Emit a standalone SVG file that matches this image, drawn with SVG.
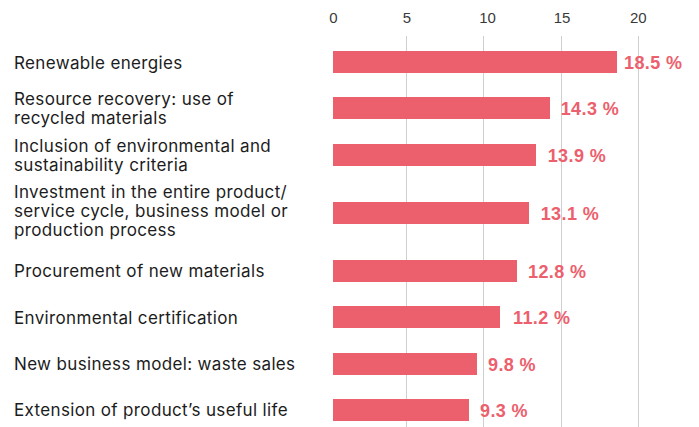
<svg xmlns="http://www.w3.org/2000/svg" width="699" height="427" viewBox="0 0 699 427">
<style>
.lbl{font-family:Inter,"Noto Sans",sans-serif;font-size:17px;letter-spacing:0.35px;fill:#1c1c1c}
.val{font-family:"Liberation Sans",Arial,sans-serif;font-size:18px;letter-spacing:0.4px;font-weight:bold;fill:#ec606d}
.ax{font-family:"Liberation Sans",Arial,sans-serif;font-size:15px;fill:#3a3a3a;text-anchor:middle}
.grid{stroke:#cfcfcf;stroke-width:1}
.bar{fill:#ec606d}
</style>
<rect width="699" height="427" fill="#fff"/>
<g id="axis">
<text class="ax" x="333.3" y="22.5">0</text>
<text class="ax" x="407" y="22.5">5</text>
<text class="ax" x="487.5" y="22.5">10</text>
<text class="ax" x="562" y="22.5">15</text>
<text class="ax" x="638.3" y="22.5">20</text>
<line class="grid" x1="406.5" y1="36" x2="406.5" y2="427"/>
<line class="grid" x1="483.5" y1="36" x2="483.5" y2="427"/>
<line class="grid" x1="561.5" y1="36" x2="561.5" y2="427"/>
<line class="grid" x1="638.5" y1="36" x2="638.5" y2="427"/>
</g>
<g id="row1">
<text class="lbl" x="14" y="69">Renewable energies</text>
<rect class="bar" x="333" y="51" width="284" height="22"/>
<text class="val" x="624" y="69">18.5 %</text>
</g>
<g id="row2">
<text class="lbl" x="14" y="105.3">Resource recovery: use of</text>
<text class="lbl" x="14" y="124.3">recycled materials</text>
<rect class="bar" x="333" y="97" width="217" height="22"/>
<text class="val" x="560.7" y="115">14.3 %</text>
</g>
<g id="row3">
<text class="lbl" x="14" y="151.5">Inclusion of environmental and</text>
<text class="lbl" x="14" y="170.5">sustainability criteria</text>
<rect class="bar" x="333" y="144" width="203" height="22"/>
<text class="val" x="547.7" y="161.7">13.9 %</text>
</g>
<g id="row4">
<text class="lbl" x="14" y="197.5">Investment in the entire product/</text>
<text class="lbl" x="14" y="216.5">service cycle, business model or</text>
<text class="lbl" x="14" y="235.5">production process</text>
<rect class="bar" x="333" y="202" width="196" height="22"/>
<text class="val" x="540.7" y="220">13.1 %</text>
</g>
<g id="row5">
<text class="lbl" x="14" y="277.3">Procurement of new materials</text>
<rect class="bar" x="333" y="260" width="184" height="22"/>
<text class="val" x="528" y="278">12.8 %</text>
</g>
<g id="row6">
<text class="lbl" x="14" y="324">Environmental certification</text>
<rect class="bar" x="333" y="306" width="167" height="22"/>
<text class="val" x="513" y="324">11.2 %</text>
</g>
<g id="row7">
<text class="lbl" x="14" y="370">New business model: waste sales</text>
<rect class="bar" x="333" y="353" width="144" height="22"/>
<text class="val" x="488" y="371">9.8 %</text>
</g>
<g id="row8">
<text class="lbl" x="14" y="416">Extension of product’s useful life</text>
<rect class="bar" x="333" y="399" width="136" height="22"/>
<text class="val" x="480" y="417">9.3 %</text>
</g>
</svg>
